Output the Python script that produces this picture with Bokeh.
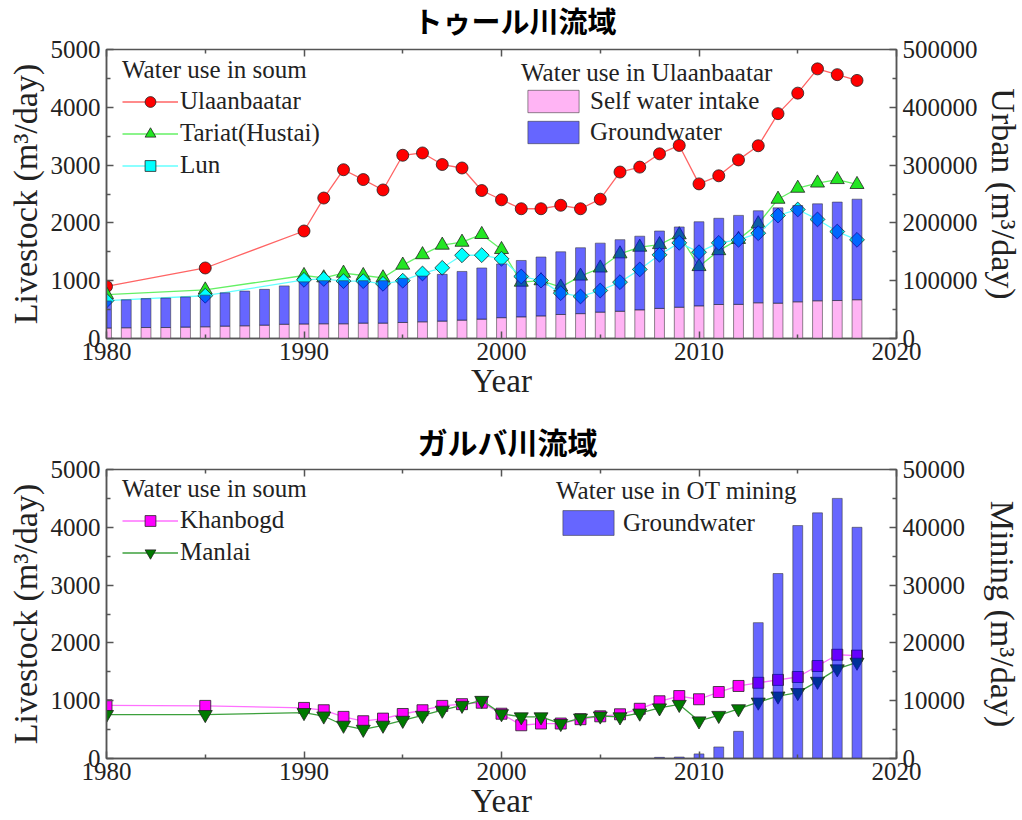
import math
from bokeh.plotting import figure
from bokeh.models import (Range1d, LinearAxis, FixedTicker, Legend, LegendItem,
                          BasicTickFormatter, ColumnDataSource)
from bokeh.layouts import column
from bokeh.embed import file_html
from bokeh.resources import INLINE

SERIF = "Liberation Serif"
CJK = "Noto Sans CJK JP"
TEXT = "#222222"
AXIS = "#555555"

# ---------------- data: Tuul river basin ----------------
soum_years = [1980, 1985, 1990, 1991, 1992, 1993, 1994, 1995, 1996, 1997, 1998, 1999,
              2000, 2001, 2002, 2003, 2004, 2005, 2006, 2007, 2008, 2009,
              2010, 2011, 2012, 2013, 2014, 2015, 2016, 2017, 2018]
ulaanbaatar = [900, 1220, 1860, 2430, 2920, 2750, 2570, 3170, 3210, 3010, 2950, 2560,
               2400, 2245, 2245, 2305, 2245, 2410, 2880, 2965, 3195, 3340,
               2675, 2815, 3090, 3335, 3890, 4245, 4665, 4565, 4465]
tariat = [760, 840, 1090, 1050, 1130, 1090, 1050, 1270, 1450, 1615, 1666, 1800,
          1540, 975, 1000, 890, 1080, 1220, 1465, 1580, 1625, 1795,
          1245, 1520, 1715, 1985, 2410, 2600, 2690, 2750, 2665]
lun = [655, 740, 1015, 1030, 992, 992, 946, 1000, 1125, 1223, 1440, 1442,
       1379, 1073, 1003, 785, 727, 830, 975, 1195, 1448, 1655,
       1493, 1655, 1707, 1822, 2128, 2232, 2060, 1850, 1707]

urban_years = [1980, 1981, 1982, 1983, 1984, 1985, 1986, 1987, 1988, 1989,
               1990, 1991, 1992, 1993, 1994, 1995, 1996, 1997, 1998, 1999,
               2000, 2001, 2002, 2003, 2004, 2005, 2006, 2007, 2008, 2009,
               2010, 2011, 2012, 2013, 2014, 2015, 2016, 2017, 2018]
self_intake = [18000, 18500, 19000, 19000, 19600, 20200, 21300, 21900, 23000, 24500,
               25000, 25400, 25400, 26500, 26500, 27700, 28800, 30000, 31700, 33400,
               36000, 37400, 39000, 41500, 43000, 45500, 47000, 49500, 52000, 54000,
               56400, 58800, 59000, 61700, 61000, 63400, 65200, 65700, 67000]
groundwater = [47000, 48500, 50000, 51000, 52400, 54800, 57700, 60100, 62000, 66500,
               73000, 74600, 74600, 73500, 73500, 76300, 79200, 81000, 84300, 88600,
               93000, 97600, 102000, 108500, 114000, 119500, 124000, 127500, 134000, 139000,
               145600, 149200, 154000, 159300, 165000, 166600, 167800, 170300, 174000]

# ---------------- data: Galba river basin ----------------
khanbogd = [920, 910, 875, 835, 720, 645, 690, 770, 835, 910, 940, 965,
            775, 575, 605, 605, 680, 730, 765, 860, 990, 1080,
            1025, 1150, 1255, 1310, 1360, 1410, 1600, 1795, 1780]
manlai = [760, 760, 795, 735, 575, 505, 575, 660, 745, 835, 920, 1005,
          775, 720, 720, 605, 700, 735, 720, 785, 875, 935,
          650, 745, 860, 975, 1080, 1140, 1335, 1550, 1665]

mining_years = [2008, 2009, 2010, 2011, 2012, 2013, 2014, 2015, 2016, 2017, 2018]
mining_gw = [200, 250, 800, 2000, 4700, 23500, 32000, 40300, 42500, 45000, 40000]

x_ticks = [1980, 1990, 2000, 2010, 2020]
x_minor = [1985, 1995, 2005, 2015]
left_ticks = [0, 1000, 2000, 3000, 4000, 5000]
left_minor = [500, 1500, 2500, 3500, 4500]


def style_axis(ax, ticks, minor):
    ax.ticker = FixedTicker(ticks=ticks, minor_ticks=minor)
    ax.major_tick_in = 7
    ax.major_tick_out = 0
    ax.minor_tick_in = 4
    ax.minor_tick_out = 0
    ax.axis_line_color = AXIS
    ax.axis_line_width = 1.5
    ax.major_tick_line_color = AXIS
    ax.major_tick_line_width = 1.5
    ax.minor_tick_line_color = AXIS
    ax.minor_tick_line_width = 1.5
    ax.major_label_text_font = SERIF
    ax.major_label_text_font_size = "25px"
    ax.major_label_text_color = TEXT
    ax.major_label_standoff = 6
    ax.axis_label_text_font = SERIF
    ax.axis_label_text_font_size = "34px"
    ax.axis_label_text_font_style = "normal"
    ax.axis_label_text_color = TEXT
    ax.axis_label_standoff = 4


def tick_only_axis(positions, length):
    # unlabeled axis along the top edge: ticks only (drawn as minor ticks)
    ax = LinearAxis(ticker=FixedTicker(ticks=[], minor_ticks=positions))
    ax.minor_tick_in = length
    ax.minor_tick_out = 0
    ax.minor_tick_line_color = AXIS
    ax.minor_tick_line_width = 1.5
    ax.axis_line_color = None
    ax.major_label_standoff = 0
    return ax


def make_fig(title, title_size, title_offset, title_standoff, frame_h, top_b, bottom_b,
             right_end, right_ticks, right_minor, right_label, right_standoff, margin):
    p = figure(frame_width=790, frame_height=frame_h,
               x_range=Range1d(1980, 2020), y_range=Range1d(0, 5000),
               output_backend="svg", toolbar_location=None,
               min_border_left=106, min_border_right=126,
               min_border_top=top_b, min_border_bottom=bottom_b,
               background_fill_color="white", border_fill_color="white",
               margin=margin)
    p.extra_y_ranges = {"right": Range1d(0, right_end)}
    p.grid.visible = False
    p.outline_line_color = AXIS
    p.outline_line_width = 1.5

    p.title.text = title
    p.title.text_font = CJK
    p.title.text_font_style = "bold"
    p.title.text_font_size = title_size
    p.title.text_color = "black"
    p.title.align = "left"
    p.title.offset = title_offset
    p.title.vertical_align = "bottom"
    p.title.standoff = title_standoff

    style_axis(p.xaxis[0], x_ticks, x_minor)
    p.xaxis[0].axis_label = "Year"
    p.xaxis[0].axis_label_text_font_size = "33px"
    p.xaxis[0].major_label_standoff = 4
    p.xaxis[0].axis_label_standoff = 0
    style_axis(p.yaxis[0], left_ticks, left_minor)
    p.yaxis[0].axis_label = "Livestock (m³/day)"

    p.add_layout(tick_only_axis(x_ticks, 7), "above")
    p.add_layout(tick_only_axis(x_minor, 4), "above")

    right = LinearAxis(y_range_name="right", axis_label=right_label)
    style_axis(right, right_ticks, right_minor)
    right.formatter = BasicTickFormatter(use_scientific=False)
    right.axis_label_standoff = right_standoff
    p.add_layout(right, "right")
    return p


def line_marker(p, x, y, line_color, marker, fill, size, angle=0.0):
    src = ColumnDataSource(dict(x=x, y=y))
    ln = p.line("x", "y", source=src, line_color=line_color, line_width=1.3)
    sc = p.scatter("x", "y", source=src, marker=marker, size=size, angle=angle,
                   fill_color=fill, line_color="#222222", line_width=0.8)
    return [ln, sc]


def make_legend(p, items, title, loc, standoff, glyph_w=56, glyph_h=27,
                spacing=4, title_standoff=3):
    lg = Legend(items=items, title=title, location=loc)
    lg.title_text_font = SERIF
    lg.title_text_font_style = "normal"
    lg.title_text_font_size = "25px"
    lg.title_text_color = TEXT
    lg.title_standoff = title_standoff
    lg.label_text_font = SERIF
    lg.label_text_font_size = "25px"
    lg.label_text_color = TEXT
    lg.label_standoff = standoff
    lg.glyph_width = glyph_w
    lg.glyph_height = glyph_h
    lg.label_height = glyph_h
    lg.spacing = spacing
    lg.padding = 0
    lg.margin = 0
    lg.border_line_color = None
    lg.background_fill_alpha = 0
    p.add_layout(lg)


# ---------------- Tuul basin ----------------
p1 = make_fig("トゥール川流域", "29px", 307, 18, 289, 49, 72, 500000,
              [0, 100000, 200000, 300000, 400000, 500000],
              [50000, 150000, 250000, 350000, 450000],
              "Urban (m³/day)", 4, (-13, 0, 0, 0))

r_ub = line_marker(p1, soum_years, ulaanbaatar, "#FF6464", "circle", "#FF0000", 12)
r_ta = line_marker(p1, soum_years, tariat, "#64F064", "triangle", "#22E622", 14)
r_lu = line_marker(p1, soum_years, lun, "#64FFFF", "square", "#00FFFF", 10.5,
                   angle=math.pi / 4)

urban_src = ColumnDataSource(dict(year=urban_years, self_intake=self_intake,
                                  groundwater=groundwater))
bars = p1.vbar_stack(["self_intake", "groundwater"], x="year", width=0.5,
                     source=urban_src, y_range_name="right",
                     fill_color=["#FFB4F4", "#0000FF"], fill_alpha=[1.0, 0.6],
                     line_color="#333333", line_alpha=0.55, line_width=1)

make_legend(p1, [LegendItem(label="Ulaanbaatar", renderers=r_ub),
                 LegendItem(label="Tariat(Hustai)", renderers=r_ta),
                 LegendItem(label="Lun", renderers=r_lu)],
            "Water use in soum", (16, 159), 2)
make_legend(p1, [LegendItem(label="Self water intake", renderers=[bars[0]]),
                 LegendItem(label="Groundwater", renderers=[bars[1]])],
            "Water use in Ulaanbaatar", (415, 192), 5, glyph_w=64, glyph_h=28,
            spacing=3, title_standoff=0)

# ---------------- Galba basin ----------------
p2 = make_fig("ガルバ川流域", "30px", 311, 13, 289, 58, 60, 50000,
              [0, 10000, 20000, 30000, 40000, 50000],
              [5000, 15000, 25000, 35000, 45000],
              "Mining (m³/day)", 16, (0, 0, 0, 0))

r_kh = line_marker(p2, soum_years, khanbogd, "#FF70FF", "square", "#FF00FF", 11)
r_ma = line_marker(p2, soum_years, manlai, "#3CA03C", "inverted_triangle", "#007A00", 14)

mine_src = ColumnDataSource(dict(year=mining_years, groundwater=mining_gw))
mbar = p2.vbar(x="year", top="groundwater", width=0.5, source=mine_src,
               y_range_name="right", fill_color="#0000FF", fill_alpha=0.6,
               line_color="#333333", line_alpha=0.55, line_width=1)

make_legend(p2, [LegendItem(label="Khanbogd", renderers=r_kh),
                 LegendItem(label="Manlai", renderers=r_ma)],
            "Water use in soum", (16, 192), 2)
make_legend(p2, [LegendItem(label="Groundwater", renderers=[mbar])],
            "Water use in OT mining", (450, 220), 3, glyph_w=64, glyph_h=31,
            spacing=0, title_standoff=2)

layout = column(p1, p2, spacing=0)
open("out.html", "w").write(file_html(layout, INLINE))
